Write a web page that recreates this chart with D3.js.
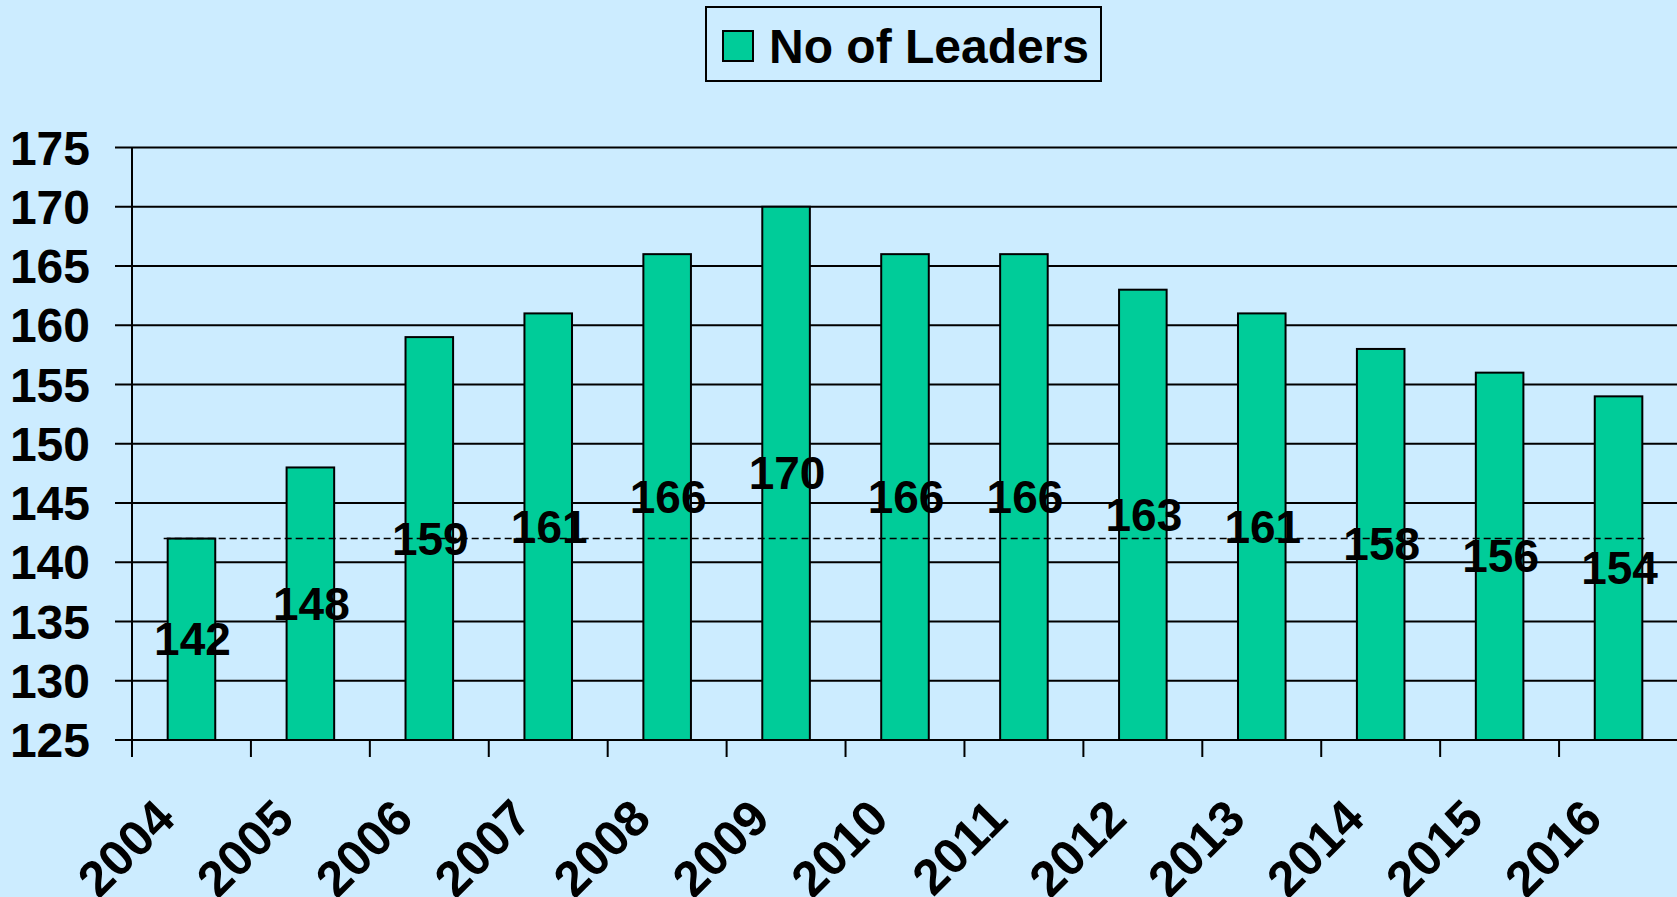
<!DOCTYPE html>
<html>
<head>
<meta charset="utf-8">
<script src="https://cdn.jsdelivr.net/npm/d3@7"></script>
<style>
  html, body { margin: 0; padding: 0; background: #CCECFF; overflow: hidden; }
  svg text { font-family: "Liberation Sans", Arial, sans-serif; font-weight: bold; fill: #000; }
</style>
</head>
<body>
<div id="chart"></div>
<script>
// Datos
const years = ["2004", "2005", "2006", "2007", "2008", "2009", "2010",
  "2011", "2012", "2013", "2014", "2015", "2016"]
const leaders = [142, 148, 159, 161, 166, 170, 166, 166, 163, 161, 158, 156, 154]
const yTicks = [125, 130, 135, 140, 145, 150, 155, 160, 165, 170, 175]
const seriesName = "No of Leaders"
const baseline = 142

const draw = () => {
  const ancho = 1677
  const alto = 897

  const svg = d3.select("#chart")
    .append("svg")
    .attr("width", ancho)
    .attr("height", alto)

  svg.append("rect")
    .attr("width", ancho)
    .attr("height", alto)
    .attr("fill", "#CCECFF")

  // Escaladores
  const x = d3.scaleBand()
    .domain(years)
    .range([132, 1678])
    .paddingInner(0.6)
    .paddingOuter(0.3)

  const y = d3.scaleLinear()
    .domain([125, 175])
    .range([740, 147.5])

  const step = x.step()
  const x0 = x.range()[0]

  // Rejilla
  svg.append("g")
    .selectAll("line")
    .data(yTicks)
    .join("line")
    .attr("x1", 115)
    .attr("x2", ancho)
    .attr("y1", (d) => y(d))
    .attr("y2", (d) => y(d))
    .attr("stroke", "#000")
    .attr("stroke-width", 2)

  // Eje Y
  svg.append("line")
    .attr("x1", x0)
    .attr("x2", x0)
    .attr("y1", y(175))
    .attr("y2", y(125) + 17)
    .attr("stroke", "#000")
    .attr("stroke-width", 2)

  svg.append("g")
    .selectAll("text")
    .data(yTicks)
    .join("text")
    .attr("x", 90)
    .attr("y", (d) => y(d) + 17)
    .attr("text-anchor", "end")
    .style("font-size", "48px")
    .text((d) => d)

  // Marcas del eje X
  svg.append("g")
    .selectAll("line")
    .data(d3.range(years.length + 1))
    .join("line")
    .attr("x1", (i) => x0 + i * step)
    .attr("x2", (i) => x0 + i * step)
    .attr("y1", y(125))
    .attr("y2", y(125) + 17)
    .attr("stroke", "#000")
    .attr("stroke-width", 2)

  svg.append("g")
    .selectAll("text")
    .data(years)
    .join("text")
    .attr("text-anchor", "end")
    .attr("transform", (d) => `translate(${x(d) + x.bandwidth() / 2 - 14}, 821) rotate(-45)`)
    .style("font-size", "50px")
    .text((d) => d)

  // Barras
  const data = years.map((year, i) => ({ year, value: leaders[i] }))

  svg.append("g")
    .selectAll("rect")
    .data(data)
    .join("rect")
    .attr("x", (d) => x(d.year))
    .attr("y", (d) => y(d.value))
    .attr("width", x.bandwidth())
    .attr("height", (d) => y(125) - y(d.value))
    .attr("fill", "#00CC99")
    .attr("stroke", "#000")
    .attr("stroke-width", 2)

  // Linea base discontinua
  svg.append("line")
    .attr("x1", x(years[0]) - 4)
    .attr("x2", x(years[years.length - 1]) + x.bandwidth() + 2)
    .attr("y1", y(baseline))
    .attr("y2", y(baseline))
    .attr("stroke", "#000")
    .attr("stroke-width", 1.5)
    .attr("stroke-dasharray", "7,4")

  // Etiquetas de valores
  svg.append("g")
    .selectAll("text")
    .data(data)
    .join("text")
    .attr("x", (d) => x(d.year) + x.bandwidth() / 2 + 1)
    .attr("y", (d) => (y(d.value) + y(125)) / 2 + 16)
    .attr("text-anchor", "middle")
    .style("font-size", "46px")
    .text((d) => d.value)

  // Leyenda
  const leyenda = svg.append("g")

  leyenda.append("rect")
    .attr("x", 706)
    .attr("y", 7)
    .attr("width", 395)
    .attr("height", 74)
    .attr("fill", "#CCECFF")
    .attr("stroke", "#000")
    .attr("stroke-width", 2)

  leyenda.append("rect")
    .attr("x", 723)
    .attr("y", 31)
    .attr("width", 30)
    .attr("height", 30)
    .attr("fill", "#00CC99")
    .attr("stroke", "#000")
    .attr("stroke-width", 2)

  leyenda.append("text")
    .attr("x", 769)
    .attr("y", 63)
    .style("font-size", "48px")
    .text(seriesName)
}

draw()
</script>
</body>
</html>
